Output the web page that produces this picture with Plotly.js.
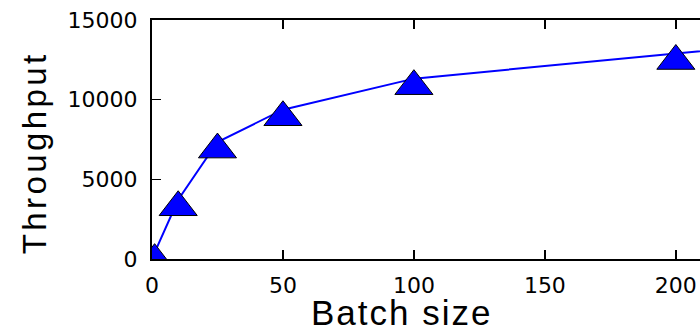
<!DOCTYPE html>
<html>
<head>
<meta charset="utf-8">
<script src="https://cdn.plot.ly/plotly-3.0.1.min.js"></script>
<style>
  html, body { margin: 0; padding: 0; overflow: hidden; background: #fff; width: 700px; height: 333px; }
  #chart { width: 853px; height: 333px; }
  g.annotation[data-index="0"] text { letter-spacing: 2px; }
  g.annotation[data-index="1"] text { letter-spacing: 3.4px; }
</style>
</head>
<body>
<div id="chart"></div>
<script>
// ---- data ----
const batchSizes = [1, 10, 25, 50, 100, 200, 256];
const throughput = [400, 3720, 7340, 9370, 11320, 12900, 13700];
const xTickVals = [0, 50, 100, 150, 200, 250];
const xTickText = ['0', '50', '100', '150', '200', '250'];
const yTickVals = [0, 5000, 10000, 15000];
const yTickText = ['0', '5000', '10000', '15000'];
const xTitle = 'Batch size';
const yTitle = 'Throughput';

// ---- style ----
const W = 853, H = 333;
const M = {l: 152, r: 20, t: 20, b: 74};
const yMax = 15000;
const markerSize = 33;
const plotH = H - M.t - M.b;
// matplotlib centres '^' on its bounding box; plotly's triangle origin sits lower.
const offsetPx = 0.457 * markerSize / 2;
const offsetUnits = offsetPx * yMax / plotH;

const tickFont = {family: 'DejaVu Sans', size: 22, color: '#000'};
const axisCommon = {
  showgrid: false, zeroline: false, showline: true, linecolor: '#000', linewidth: 2,
  mirror: 'ticks', ticks: 'inside', ticklen: 9, tickwidth: 1.5, tickcolor: '#000',
  tickfont: tickFont, fixedrange: true
};

const lineTrace = {
  x: batchSizes, y: throughput, type: 'scatter', mode: 'lines',
  line: {color: '#0000ff', width: 2}, hoverinfo: 'skip', showlegend: false
};
const markerTrace = {
  x: batchSizes, y: throughput, type: 'scatter', mode: 'markers', yaxis: 'y2',
  marker: {symbol: 'triangle-up', size: markerSize, color: '#0000ff', line: {color: '#000', width: 1}},
  hoverinfo: 'skip', showlegend: false
};

const layout = {
  width: W, height: H, margin: M,
  paper_bgcolor: '#fff', plot_bgcolor: '#fff',
  xaxis: Object.assign({}, axisCommon, {
    range: [0, 260], tickmode: 'array', tickvals: xTickVals, ticktext: xTickText, ticklabelstandoff: 6
  }),
  yaxis: Object.assign({}, axisCommon, {
    range: [0, yMax], tickmode: 'array', tickvals: yTickVals, ticktext: yTickText, ticklabelstandoff: 8
  }),
  yaxis2: {overlaying: 'y', range: [offsetUnits, yMax + offsetUnits], visible: false, fixedrange: true},
  annotations: [
    {text: xTitle, xref: 'paper', yref: 'paper', x: 0.3662, y: -0.2255, xanchor: 'center', yanchor: 'middle',
     showarrow: false, font: {family: 'Liberation Sans', size: 35, color: '#000'}},
    {text: yTitle, xref: 'paper', yref: 'paper', x: -0.1734, y: 0.4464, xanchor: 'center', yanchor: 'middle',
     textangle: -90, showarrow: false, font: {family: 'Liberation Sans', size: 33, color: '#000'}}
  ]
};

Plotly.newPlot('chart', [lineTrace, markerTrace], layout, {staticPlot: true, displayModeBar: false});
</script>
</body>
</html>
